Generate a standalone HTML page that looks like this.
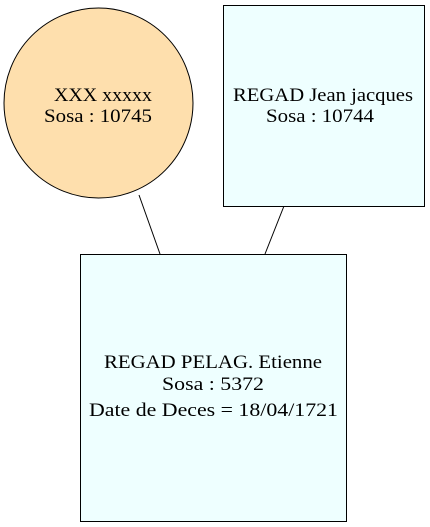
<!DOCTYPE html>
<html><head><meta charset="utf-8"><style>html,body{margin:0;padding:0;background:#fff}svg{display:block}</style></head>
<body>
<svg width="430" height="527" viewBox="0 0 430 527" xmlns="http://www.w3.org/2000/svg" font-family="'Liberation Serif', serif" font-size="19" text-anchor="middle">
<rect width="430" height="527" fill="#fff"/>
<line x1="139" y1="195" x2="160" y2="254" stroke="#000" stroke-width="1"/>
<line x1="284" y1="206" x2="265" y2="254" stroke="#000" stroke-width="1"/>
<ellipse cx="98.5" cy="103" rx="94.5" ry="95" fill="#fedfad" stroke="#000"/>
<text x="103" y="101" textLength="98" lengthAdjust="spacingAndGlyphs">XXX xxxxx</text>
<text x="98" y="122" textLength="108" lengthAdjust="spacingAndGlyphs">Sosa : 10745</text>
<rect x="223.5" y="5.5" width="201" height="201" fill="#eeffff" stroke="#000"/>
<text x="323" y="101" textLength="180" lengthAdjust="spacingAndGlyphs">REGAD Jean jacques</text>
<text x="320" y="122" textLength="108" lengthAdjust="spacingAndGlyphs">Sosa : 10744</text>
<rect x="80.5" y="254.5" width="266" height="267" fill="#eeffff" stroke="#000"/>
<text x="213" y="368" textLength="218" lengthAdjust="spacingAndGlyphs">REGAD PELAG. Etienne</text>
<text x="213" y="390" textLength="102" lengthAdjust="spacingAndGlyphs">Sosa : 5372</text>
<text x="213.5" y="416" textLength="249" lengthAdjust="spacingAndGlyphs">Date de Deces = 18/04/1721</text>
</svg>
</body></html>
